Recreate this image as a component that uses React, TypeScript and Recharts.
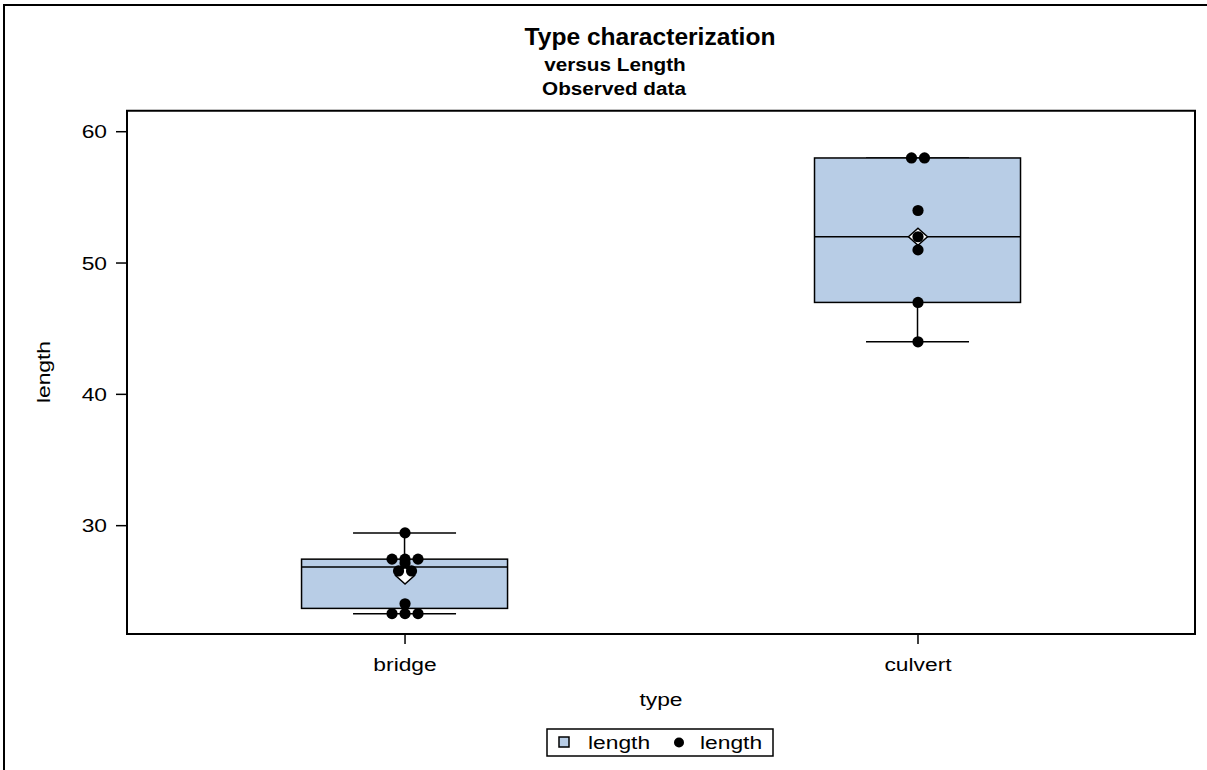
import React from "react";
import {
  ComposedChart,
  Bar,
  Scatter,
  XAxis,
  YAxis,
  ReferenceArea,
  Customized,
} from "recharts";

// Box statistics per bridge type
const types = ["bridge", "culvert"];
const lowWhisker = [23.3, 44];
const q1 = [23.7, 47];
const median = [26.85, 52];
const q3 = [27.45, 58];
const highWhisker = [29.45, 58];
const mean = [26.2, 52];

// Observed lengths
const bridgeLengths = [29.45, 27.45, 27.45, 27.45, 27.15, 26.55, 26.55, 24.05, 23.3, 23.3, 23.3];
const culvertLengths = [58, 58, 54, 52, 51, 47, 44];

const lengthTicks = [30, 40, 50, 60];

const W = 1207;
const H = 770;
const Y_MIN = 21.75;
const Y_MAX = 61.6;
const X_MIN = 0.458;
const X_MAX = 2.54;
const BOX_WIDTH = 206;
const JITTER = 13;
const BOX_FILL = "#B8CDE6";
const FONT = "'Liberation Sans', Arial, Helvetica, sans-serif";

const boxes = types.map((t, i) => ({
  pos: i + 1,
  type: t,
  lower: [lowWhisker[i], q1[i]],
  upper: [q3[i], highWhisker[i]],
  box: [q1[i], q3[i]],
  median: median[i],
  mean: mean[i],
}));

// spread equal values sideways so overlapping dots stay visible
const points = [bridgeLengths, culvertLengths].flatMap((vals, i) =>
  vals.map((v, j) => {
    const same = vals.filter((w) => w === v).length;
    const rank = vals.slice(0, j).filter((w) => w === v).length;
    return { pos: i + 1, length: v, slot: rank - (same - 1) / 2 };
  })
);

// text drawn a little wider than the font's natural width
const SText = ({ x, y, size = 19, bold = false, anchor = "middle", sx = 1.2, rotate = 0, children }: any) => (
  <text
    transform={`translate(${x},${y}) rotate(${rotate}) scale(${sx},1)`}
    fontSize={size}
    fontWeight={bold ? "bold" : "normal"}
    textAnchor={anchor}
    fontFamily={FONT}
    fill="#000"
  >
    {children}
  </text>
);

const Whisker = (props: any, capAtTop: boolean) => {
  const { x, y, width, height } = props;
  if (x == null || y == null) return <g />;
  const cx = x + width / 2;
  const top = Math.min(y, y + height);
  const bottom = Math.max(y, y + height);
  const capY = capAtTop ? top : bottom;
  return (
    <g stroke="#000" strokeWidth={1.5}>
      <line x1={cx} x2={cx} y1={top} y2={bottom} />
      <line x1={cx - width / 4} x2={cx + width / 4} y1={capY} y2={capY} />
    </g>
  );
};

const BoxShape = (props: any) => {
  const { x, y, width, height } = props;
  if (x == null || y == null) return <g />;
  return (
    <rect
      x={x}
      y={Math.min(y, y + height)}
      width={width}
      height={Math.abs(height)}
      fill={BOX_FILL}
      stroke="#000"
      strokeWidth={1.5}
    />
  );
};

const MedianShape = (props: any) => {
  const { cx, cy } = props;
  return <line x1={cx - BOX_WIDTH / 2} x2={cx + BOX_WIDTH / 2} y1={cy} y2={cy} stroke="#000" strokeWidth={1.5} />;
};

const MeanShape = (props: any) => {
  const { cx, cy } = props;
  return (
    <path
      d={`M${cx},${cy - 8.5} L${cx + 9.5},${cy} L${cx},${cy + 8.5} L${cx - 9.5},${cy} Z`}
      fill="#fff"
      stroke="#000"
      strokeWidth={1.5}
    />
  );
};

const DotShape = (props: any) => {
  const { cx, cy, payload } = props;
  return <circle cx={cx + payload.slot * JITTER} cy={cy} r={5.6} fill="#000" />;
};

const YTick = ({ y, payload }: any) => (
  <SText x={107} y={y + 6.5} anchor="end">
    {payload.value}
  </SText>
);

const XTick = ({ x, payload }: any) => (
  <SText x={x} y={670.5}>
    {types[Math.round(payload.value) - 1]}
  </SText>
);

const Overlay = () => (
  <g>
    {/* outer frame */}
    <path d={`M4,${H} V5 H${W}`} fill="none" stroke="#000" strokeWidth={2} />
    <SText x={650} y={45} size={23} bold sx={1.07}>
      Type characterization
    </SText>
    <SText x={615} y={70.5} size={18.5} bold sx={1.12}>
      versus Length
    </SText>
    <SText x={614} y={95} size={18.5} bold sx={1.12}>
      Observed data
    </SText>
    <SText x={50} y={372} rotate={-90}>
      length
    </SText>
    <SText x={661} y={706}>
      type
    </SText>
    {/* legend */}
    <rect x={547} y={729} width={226} height={27} fill="#fff" stroke="#000" strokeWidth={1.5} />
    <rect x={559} y={737} width={10} height={10} fill={BOX_FILL} stroke="#000" strokeWidth={1.5} />
    <SText x={588} y={749} anchor="start">
      length
    </SText>
    <circle cx={679} cy={742.5} r={5} fill="#000" />
    <SText x={700} y={749} anchor="start">
      length
    </SText>
  </g>
);

export default function App() {
  return (
    <div style={{ position: "absolute", left: 0, top: 0, width: W, height: H, background: "#fff" }}>
      <ComposedChart
        width={W}
        height={H}
        data={boxes}
        margin={{ top: 110.7, right: 12, bottom: 96, left: 0 }}
        barSize={BOX_WIDTH}
        barGap={-BOX_WIDTH}
      >
        <XAxis
          type="number"
          dataKey="pos"
          domain={[X_MIN, X_MAX]}
          ticks={[1, 2]}
          allowDataOverflow
          height={40}
          axisLine={false}
          tickLine={{ stroke: "#000", strokeWidth: 1.5 }}
          tickSize={10}
          tick={<XTick />}
        />
        <YAxis
          type="number"
          domain={[Y_MIN, Y_MAX]}
          ticks={lengthTicks}
          allowDataOverflow
          width={127}
          axisLine={false}
          tickLine={{ stroke: "#000", strokeWidth: 1.5 }}
          tickSize={11}
          tick={<YTick />}
        />
        <Bar dataKey="lower" isAnimationActive={false} shape={(p: any) => Whisker(p, false)} />
        <Bar dataKey="upper" isAnimationActive={false} shape={(p: any) => Whisker(p, true)} />
        <Bar dataKey="box" isAnimationActive={false} shape={BoxShape} />
        <Scatter dataKey="median" isAnimationActive={false} shape={MedianShape} />
        <Scatter dataKey="mean" isAnimationActive={false} shape={MeanShape} />
        <Scatter data={points} dataKey="length" isAnimationActive={false} shape={DotShape} />
        <ReferenceArea
          x1={X_MIN}
          x2={X_MAX}
          y1={Y_MIN}
          y2={Y_MAX}
          fill="none"
          stroke="#000"
          strokeWidth={2}
          ifOverflow="visible"
        />
        <Customized component={Overlay} />
      </ComposedChart>
    </div>
  );
}
